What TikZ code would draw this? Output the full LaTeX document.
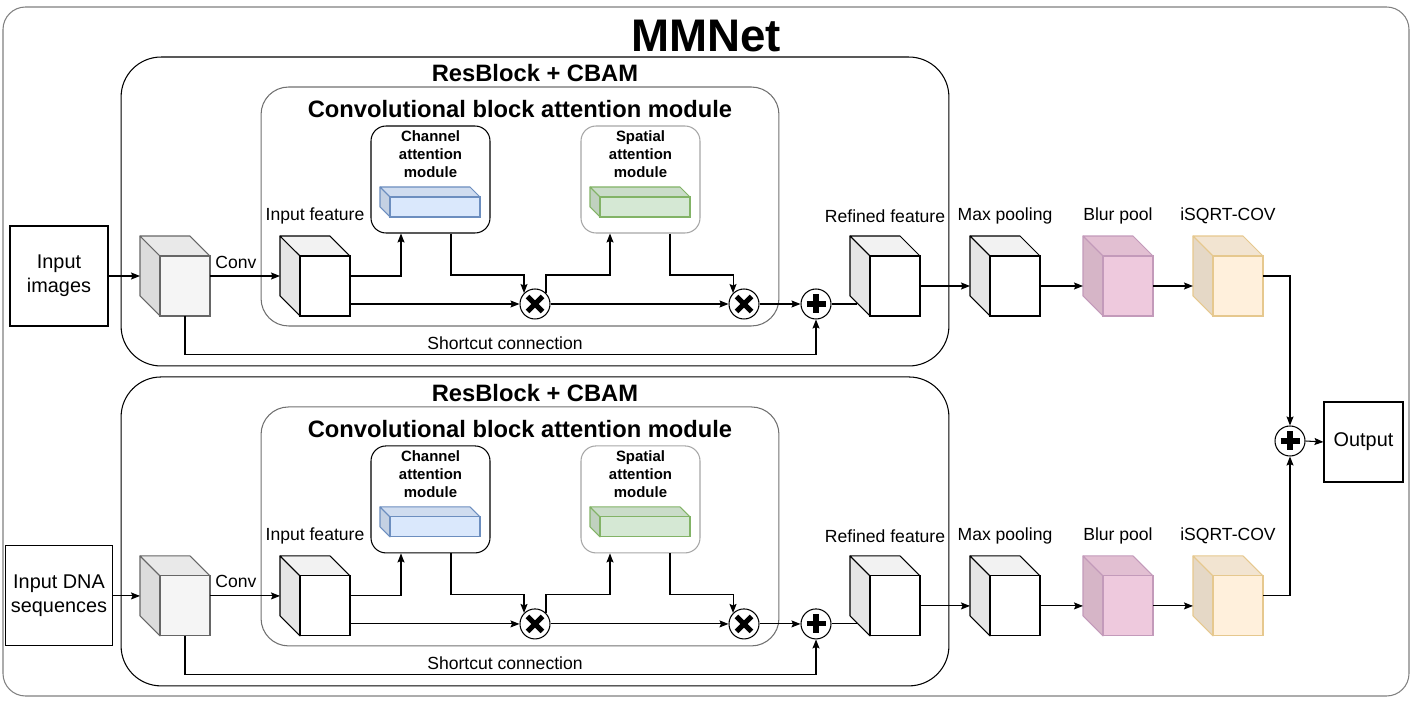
\documentclass[tikz,border=0pt]{standalone}
\usepackage{fontspec}
\setmainfont{Liberation Sans}
\usetikzlibrary{arrows.meta}

\definecolor{convfill}{HTML}{F5F5F5}
\definecolor{convline}{HTML}{666666}
\definecolor{chfill}{HTML}{DAE8FC}
\definecolor{chline}{HTML}{6C8EBF}
\definecolor{spfill}{HTML}{D5E8D4}
\definecolor{spline}{HTML}{82B366}
\definecolor{blurfill}{HTML}{EEC9DD}
\definecolor{blurline}{HTML}{C39ABA}
\definecolor{covfill}{HTML}{FFF0DC}
\definecolor{covline}{HTML}{E6C88E}
\definecolor{framegray}{HTML}{808080}
\definecolor{cbamgray}{HTML}{707070}
\definecolor{spgray}{HTML}{A6A6A6}

\tikzset{
  arr/.style={-{Stealth[length=0.18cm,width=0.14cm,inset=0.03cm]}, line width=0.6pt},
  lnk/.style={line width=0.6pt},
  lbl/.style={font=\fontsize{10}{12}\selectfont, inner sep=0pt},
  headtxt/.style={font=\fontsize{13.5}{16}\selectfont\bfseries, inner sep=0pt},
  titletxt/.style={font=\fontsize{26}{30}\selectfont\bfseries, inner sep=0pt},
  modtxt/.style={font=\fontsize{8.5}{10.3}\selectfont\bfseries, align=center, anchor=north, inner sep=0pt},
  iobox/.style={draw, line width=0.6pt, minimum width=1.96cm, minimum height=2cm, align=center,
    font=\fontsize{11.3}{13.7}\selectfont},
  resbox/.style={draw, line width=0.6pt, rounded corners=0.8cm, minimum width=16.56cm, minimum height=6.18cm},
  cbambox/.style={draw=cbamgray, line width=0.6pt, rounded corners=0.55cm, minimum width=10.36cm, minimum height=4.78cm},
  modbox/.style={draw, line width=0.6pt, rounded corners=0.3cm, minimum width=2.38cm, minimum height=2.14cm},
  % front face of a cuboid, side and top faces added behind it
  box3d/.style n args={3}{draw=#1, fill=#2, line width=0.6pt, outer sep=0pt, inner sep=0pt,
    append after command={\pgfextra{\let\cubenode\tikzlastnode
      \filldraw[draw=#1, fill=#2!90!black, line width=0.6pt, line join=round] (\cubenode.north west) -- ++(-#3,-#3)
        -- ([shift={(-#3,-#3)}]\cubenode.south west) -- (\cubenode.south west) -- cycle;
      \filldraw[draw=#1, fill=#2!95!black, line width=0.6pt, line join=round] (\cubenode.north west) -- ++(-#3,-#3)
        -- ([shift={(-#3,-#3)}]\cubenode.north east) -- (\cubenode.north east) -- cycle;}}},
  fcube/.style 2 args={box3d={#1}{#2}{20}, minimum width=1cm, minimum height=1.2cm},
  flatcube/.style 2 args={box3d={#1}{#2}{10}, minimum width=1.8cm, minimum height=0.4cm},
  opmul/.style={circle, draw, fill=white, line width=0.6pt, minimum size=0.6cm, inner sep=0pt,
    path picture={\draw[line width=2.9pt]
      ([shift={(-7.5,-7.5)}]path picture bounding box.center) -- ([shift={(7.5,7.5)}]path picture bounding box.center)
      ([shift={(-7.5,7.5)}]path picture bounding box.center) -- ([shift={(7.5,-7.5)}]path picture bounding box.center);}},
  opadd/.style={circle, draw, fill=white, line width=0.6pt, minimum size=0.6cm, inner sep=0pt,
    path picture={\draw[line width=2.9pt]
      ([shift={(-9.5,0)}]path picture bounding box.center) -- ([shift={(9.5,0)}]path picture bounding box.center)
      ([shift={(0,-9.5)}]path picture bounding box.center) -- ([shift={(0,9.5)}]path picture bounding box.center);}},
}

\begin{document}
\begin{tikzpicture}[x=0.02cm, y=-0.02cm]
\useasboundingbox (0,0) rectangle (1411,702);

% Outer frame
\draw[framegray, line width=0.6pt, rounded corners=0.45cm] (3,7) rectangle (1409,696);
\node[titletxt] (title) at (706,36) {MMNet};

% Image branch
\begin{scope}
  % ResBlock + CBAM
  \node[resbox] (rba) at (535,211.5) {};
  \node[headtxt] (rbta) at (535,73) {ResBlock + CBAM};
  \node[cbambox] (cbma) at (520,206.5) {};
  \node[headtxt] (cbmta) at (520,109) {Convolutional block attention module};

  % Attention modules
  \node[modbox] (caa) at (430.5,179.5) {};
  \node[modtxt] (cata) at (430.5,130) {Channel\\attention\\module};
  \node[flatcube={chline}{chfill}] (cuba) at (435,207) {};
  \node[modbox, draw=spgray] (saa) at (640.5,179.5) {};
  \node[modtxt] (sata) at (640.5,130) {Spatial\\attention\\module};
  \node[flatcube={spline}{spfill}] (cuga) at (645,207) {};

  % Input and features
  \node[iobox] (ina) at (59,276) {Input\\images};
  \node[fcube={convline}{convfill}] (cva) at (185,286) {};
  \node[lbl] (cvla) at (236,262) {Conv};
  \node[fcube={black}{white}] (ifa) at (325,286) {};
  \node[lbl] (ifla) at (315,216) {Input feature};
  \node[fcube={black}{white}] (rfa) at (895,286) {};
  \node[lbl] (rfla) at (885,216) {Refined feature};
  \node[fcube={black}{white}] (mpa) at (1015,286) {};
  \node[lbl] (mpla) at (1005,216) {Max pooling};
  \node[fcube={blurline}{blurfill}] (bpa) at (1128,286) {};
  \node[lbl] (bpla) at (1118,216) {Blur pool};
  \node[fcube={covline}{covfill}] (iqa) at (1238,286) {};
  \node[lbl] (iqla) at (1228,216) {iSQRT-COV};

  % Operators
  \node[opmul] (m1a) at (535,304) {};
  \node[opmul] (m2a) at (744,304) {};
  \node[opadd] (pa) at (816,304) {};
  \node[lbl] (scla) at (505,343) {Shortcut connection};

  % Connections
  \draw[arr] (ina.east) -- ([shift={(-20,-10)}]cva.west);
  \draw[arr] ([shift={(0,-10)}]cva.east) -- ([shift={(-20,-10)}]ifa.west);
  \draw[arr] ([shift={(0,-10)}]ifa.east) -| ([shift={(-29.5,0)}]caa.south);
  \draw[arr] ([shift={(0,18)}]ifa.east) -- (m1a.west);
  \draw[arr] ([shift={(20.5,0)}]caa.south) |- ([shift={(0,-18)}]m1a.north west) -- (m1a.north west);
  \draw[arr] (m1a.north east) -- ++(0,-18) -| ([shift={(-30.5,0)}]saa.south);
  \draw[arr] ([shift={(29.5,0)}]saa.south) |- ([shift={(0,-18)}]m2a.north west) -- (m2a.north west);
  \draw[arr] (m1a.east) -- (m2a.west);
  \draw[arr] (m2a.east) -- (pa.west);
  \draw[arr] (cva.south) |- ([shift={(0,35)}]pa.south) -- (pa.south);
  \draw[lnk] (pa.east) -- ([shift={(-38,18)}]rfa.center);
  \draw[arr] (rfa.east) -- ([shift={(-20,0)}]mpa.west);
  \draw[arr] (mpa.east) -- ([shift={(-20,0)}]bpa.west);
  \draw[arr] (bpa.east) -- ([shift={(-20,0)}]iqa.west);
\end{scope}

% DNA branch
\begin{scope}[yshift=-6.4cm]
  % ResBlock + CBAM
  \node[resbox] (rbb) at (535,211.5) {};
  \node[headtxt] (rbtb) at (535,73) {ResBlock + CBAM};
  \node[cbambox] (cbmb) at (520,206.5) {};
  \node[headtxt] (cbmtb) at (520,109) {Convolutional block attention module};

  % Attention modules
  \node[modbox] (cab) at (430.5,179.5) {};
  \node[modtxt] (catb) at (430.5,130) {Channel\\attention\\module};
  \node[flatcube={chline}{chfill}] (cubb) at (435,207) {};
  \node[modbox, draw=spgray] (sab) at (640.5,179.5) {};
  \node[modtxt] (satb) at (640.5,130) {Spatial\\attention\\module};
  \node[flatcube={spline}{spfill}] (cugb) at (645,207) {};

  % Input and features
  \node[iobox] (inb) at (59,276) {Input DNA\\sequences};
  \node[fcube={convline}{convfill}] (cvb) at (185,286) {};
  \node[lbl] (cvlb) at (236,262) {Conv};
  \node[fcube={black}{white}] (ifb) at (325,286) {};
  \node[lbl] (iflb) at (315,216) {Input feature};
  \node[fcube={black}{white}] (rfb) at (895,286) {};
  \node[lbl] (rflb) at (885,216) {Refined feature};
  \node[fcube={black}{white}] (mpb) at (1015,286) {};
  \node[lbl] (mplb) at (1005,216) {Max pooling};
  \node[fcube={blurline}{blurfill}] (bpb) at (1128,286) {};
  \node[lbl] (bplb) at (1118,216) {Blur pool};
  \node[fcube={covline}{covfill}] (iqb) at (1238,286) {};
  \node[lbl] (iqlb) at (1228,216) {iSQRT-COV};

  % Operators
  \node[opmul] (m1b) at (535,304) {};
  \node[opmul] (m2b) at (744,304) {};
  \node[opadd] (pb) at (816,304) {};
  \node[lbl] (sclb) at (505,343) {Shortcut connection};

  % Connections
  \draw[arr] (inb.east) -- ([shift={(-20,-10)}]cvb.west);
  \draw[arr] ([shift={(0,-10)}]cvb.east) -- ([shift={(-20,-10)}]ifb.west);
  \draw[arr] ([shift={(0,-10)}]ifb.east) -| ([shift={(-29.5,0)}]cab.south);
  \draw[arr] ([shift={(0,18)}]ifb.east) -- (m1b.west);
  \draw[arr] ([shift={(20.5,0)}]cab.south) |- ([shift={(0,-18)}]m1b.north west) -- (m1b.north west);
  \draw[arr] (m1b.north east) -- ++(0,-18) -| ([shift={(-30.5,0)}]sab.south);
  \draw[arr] ([shift={(29.5,0)}]sab.south) |- ([shift={(0,-18)}]m2b.north west) -- (m2b.north west);
  \draw[arr] (m1b.east) -- (m2b.west);
  \draw[arr] (m2b.east) -- (pb.west);
  \draw[arr] (cvb.south) |- ([shift={(0,35)}]pb.south) -- (pb.south);
  \draw[lnk] (pb.east) -- ([shift={(-38,18)}]rfb.center);
  \draw[arr] (rfb.east) -- ([shift={(-20,0)}]mpb.west);
  \draw[arr] (mpb.east) -- ([shift={(-20,0)}]bpb.west);
  \draw[arr] (bpb.east) -- ([shift={(-20,0)}]iqb.west);
\end{scope}

% Fusion
\node[opadd] (fp) at (1290,441) {};
\node[iobox, minimum width=1.58cm, minimum height=1.6cm] (out) at (1363.5,442) {Output};
\draw[arr] ([shift={(0,-10)}]iqa.east) -| (fp.north);
\draw[arr] ([shift={(0,-10)}]iqb.east) -| (fp.south);
\draw[arr] (fp.east) -- (out.west);

\end{tikzpicture}
\end{document}
